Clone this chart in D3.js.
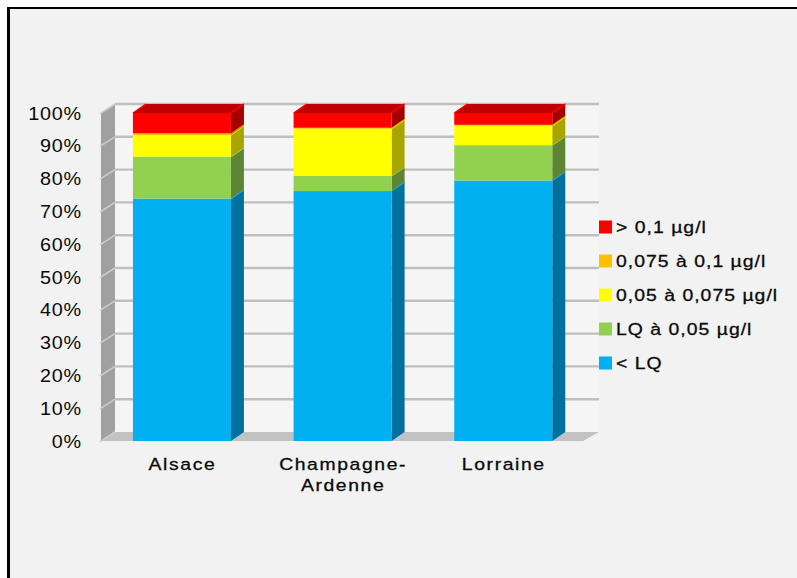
<!DOCTYPE html>
<html>
<head>
<meta charset="utf-8">
<script src="https://cdnjs.cloudflare.com/ajax/libs/d3/7.8.5/d3.min.js"></script>
<style>
html,body{margin:0;padding:0;background:#fff;}
svg{display:block;}
text{font-family:"Liberation Sans",Arial,sans-serif;fill:#0a0a0a;}
</style>
</head>
<body>
<svg id="chart" width="797" height="578"></svg>
<script>
// Regions and share of measurements per concentration class (percent)
const regions = ["Alsace", "Champagne-Ardenne", "Lorraine"];
const classes = ["< LQ", "LQ à 0,05 µg/l", "0,05 à 0,075 µg/l", "0,075 à 0,1 µg/l", "> 0,1 µg/l"];
const belowLq = [73.9, 76.2, 79.4];
const lqTo005 = [12.8, 4.6, 10.8];
const from005To0075 = [6.6, 14.4, 5.9];
const from0075To01 = [0.5, 0.3, 0.3];
const above01 = [6.2, 4.5, 3.6];
const seriesValues = [belowLq, lqTo005, from005To0075, from0075To01, above01];
const yTicks = [0, 10, 20, 30, 40, 50, 60, 70, 80, 90, 100];

const frontColors = ["#00b0f0", "#92d050", "#ffff00", "#ffc000", "#ff0000"];
const sideColors = ["#00719f", "#5e8535", "#a8a500", "#a87f00", "#a30000"];
const edgeColors = ["#1fb8ee", "#a4d84e", "#f5f000", "#ffb000", "#ff0000"];

const svg = d3.select("#chart");
const depth = {wall: [14, -9], bar: [13, -9]};
const y = d3.scaleLinear().domain([0, 100]).range([441, 113]);
const x = d3.scaleBand().domain(regions).range([101.6, 583.6]).paddingInner(0.39).paddingOuter(0.195);

// Page panel with its black top and left rules
svg.append("rect").attr("x", 8).attr("y", 7).attr("width", 789).attr("height", 571).attr("fill", "#f2f2f2");
svg.append("rect").attr("x", 7).attr("y", 7).attr("width", 790).attr("height", 2).attr("fill", "#000");
svg.append("rect").attr("x", 7).attr("y", 7).attr("width", 3).attr("height", 571).attr("fill", "#000");

// 3D box: back wall, left wall, floor
const xLeft = 101, xRight = 583;
const poly = pts => pts.map(p => p.join(",")).join(" ");
svg.append("polygon")
  .attr("points", poly([[xLeft + depth.wall[0], y(100) + depth.wall[1]], [xRight + 16, y(100) + depth.wall[1]], [xRight + 16, y(0) + depth.wall[1]], [xLeft + depth.wall[0], y(0) + depth.wall[1]]]))
  .attr("fill", "#f5f5f5");
svg.append("polygon")
  .attr("points", poly([[xLeft, y(0)], [xLeft + depth.wall[0], y(0) + depth.wall[1]], [xRight + 16, y(0) + depth.wall[1]], [xRight, y(0)]]))
  .attr("fill", "#c2c2c2");
svg.append("polygon")
  .attr("points", poly([[xLeft, y(0)], [xLeft + depth.wall[0], y(0) + depth.wall[1]], [xLeft + depth.wall[0], y(100) + depth.wall[1]], [xLeft, y(100)]]))
  .attr("fill", "#a0a0a0");

// Gridlines on the back wall, continued down the left wall
svg.append("g").selectAll("line").data(yTicks.slice(1)).join("line")
  .attr("x1", xLeft + depth.wall[0]).attr("x2", xRight + 16)
  .attr("y1", d => y(d) + depth.wall[1]).attr("y2", d => y(d) + depth.wall[1])
  .attr("stroke", "#bfbfbf").attr("stroke-width", 2.4);
svg.append("g").selectAll("line").data(yTicks).join("line")
  .attr("x1", xLeft - 1).attr("x2", xLeft + depth.wall[0])
  .attr("y1", d => y(d) + 0.6).attr("y2", d => y(d) + depth.wall[1])
  .attr("stroke", "#cccccc").attr("stroke-width", 1.6);

// Stacked 3D columns
const stackRows = regions.map((r, i) => {
  const row = {region: r};
  classes.forEach((c, k) => { row[c] = seriesValues[k][i]; });
  return row;
});
const stacked = d3.stack().keys(classes)(stackRows);
const [bx, by] = depth.bar;

stacked.forEach((layer, k) => {
  const g = svg.append("g");
  layer.forEach(d => {
    const x0 = x(d.data.region), x1 = x0 + x.bandwidth();
    const yLow = y(d[0]), yTop = y(d[1]);
    // Right-hand side face
    g.append("polygon")
      .attr("points", poly([[x1, yLow], [x1 + bx, yLow + by], [x1 + bx, yTop + by], [x1, yTop]]))
      .attr("fill", sideColors[k]);
    // Front face
    g.append("rect").attr("x", x0).attr("y", yTop).attr("width", x.bandwidth()).attr("height", yLow - yTop)
      .attr("fill", frontColors[k]);
    // Lit upper edge of the side face
    g.append("line").attr("x1", x1).attr("y1", yTop).attr("x2", x1 + bx).attr("y2", yTop + by)
      .attr("stroke", edgeColors[k]).attr("stroke-width", 1.3);
    // Roof of the stack
    if (k === classes.length - 1) {
      g.append("polygon")
        .attr("points", poly([[x0, yTop], [x0 + bx, yTop + by], [x1 + bx, yTop + by], [x1, yTop]]))
        .attr("fill", "#c00000");
      g.append("path")
        .attr("d", `M${x0},${yTop}L${x0 + bx},${yTop + by}M${x1},${yTop}L${x1 + bx},${yTop + by}`)
        .attr("stroke", "#ff0000").attr("stroke-width", 1.3).attr("fill", "none");
    }
  });
});

// All labels use a slightly extended face
const placeText = (px, py, sx) => `translate(${px},${py}) scale(${sx},1)`;

// Value axis labels
svg.append("g").selectAll("text").data(yTicks).join("text")
  .attr("transform", d => placeText(82, y(d) + 6.5, 1.1))
  .attr("text-anchor", "end")
  .attr("font-size", 18).attr("letter-spacing", 0.7)
  .text(d => d + "%");

// Category labels; the compound name breaks after its hyphen
const catLabel = svg.append("g").selectAll("text").data(regions).join("g")
  .attr("transform", d => placeText(x(d) + x.bandwidth() / 2 + 0.5, 470, 1.14));
catLabel.each(function (d) {
  d.replace("-", "-\n").split("\n").forEach((part, i) => {
    d3.select(this).append("text")
      .attr("text-anchor", "middle").attr("y", i * 21)
      .attr("font-size", 17).attr("letter-spacing", 1.4)
      .attr("stroke", "#0a0a0a").attr("stroke-width", 0.3)
      .text(part);
  });
});

// Legend, top entry first
const legendRows = classes.map((c, k) => ({label: c, color: frontColors[k]})).reverse();
const legendY = d3.scalePoint().domain(legendRows.map(d => d.label)).range([227, 363]);
const legend = svg.append("g").selectAll("g").data(legendRows).join("g");
legend.append("rect")
  .attr("x", 599).attr("y", d => legendY(d.label) - 6.5).attr("width", 13).attr("height", 13)
  .attr("fill", d => d.color);
legend.append("text")
  .attr("transform", d => placeText(616, legendY(d.label) + 6, 1.14))
  .attr("font-size", 17).attr("letter-spacing", 0.9).attr("stroke", "#0a0a0a").attr("stroke-width", 0.3)
  .text(d => d.label);
</script>
</body>
</html>
